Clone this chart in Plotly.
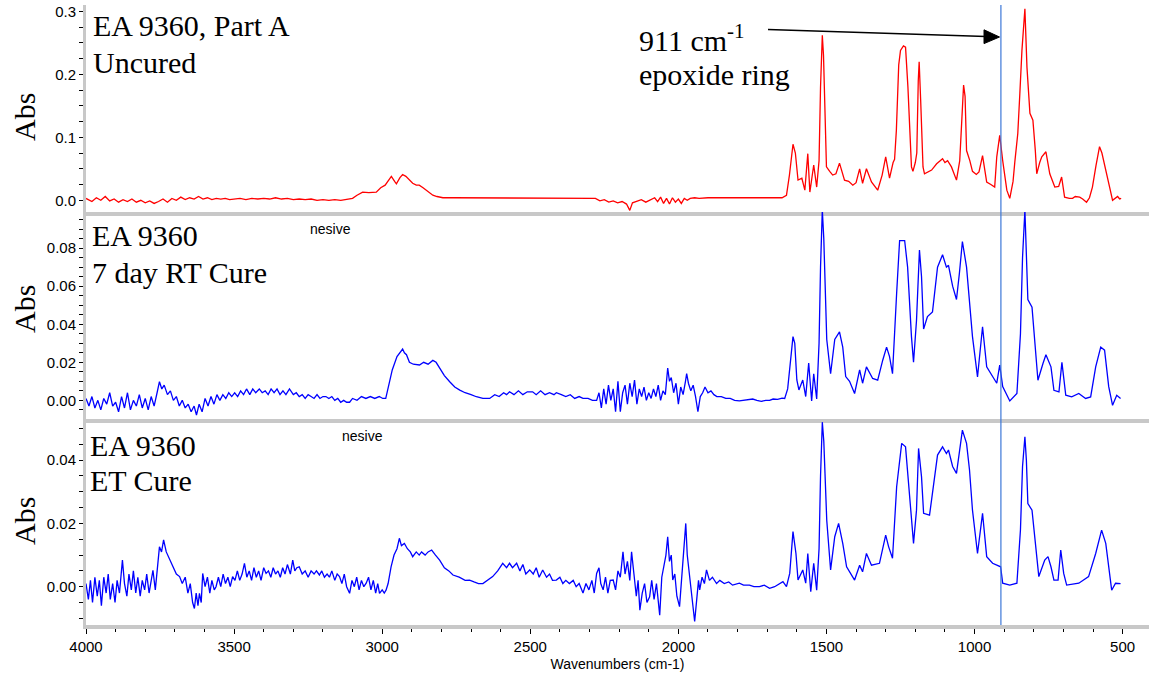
import plotly.graph_objects as go

# ---------------- data (wavenumber cm-1, absorbance) ----------------
UNCURED = [
    (4000, 0.003), (3980, -0.002), (3965, 0.004), (3950, 0.000), (3935, 0.006), (3920, -0.001),
    (3905, 0.002), (3890, -0.003), (3875, 0.001), (3860, -0.002), (3845, 0.002), (3830, -0.003),
    (3815, 0.000), (3800, -0.004), (3785, -0.001), (3770, -0.005), (3755, -0.002), (3740, 0.002),
    (3725, -0.003), (3710, 0.003), (3695, 0.000), (3680, 0.005), (3665, 0.001), (3650, 0.004),
    (3635, 0.002), (3620, 0.006), (3605, 0.002), (3590, 0.004), (3575, 0.001), (3560, 0.003),
    (3545, 0.002), (3530, 0.003), (3515, 0.001), (3500, 0.002), (3480, 0.003), (3460, 0.001),
    (3440, 0.003), (3420, 0.002), (3400, 0.003), (3380, 0.002), (3360, 0.004), (3340, 0.002),
    (3320, 0.003), (3300, 0.001), (3280, 0.002), (3260, 0.001), (3240, 0.002), (3220, 0.000),
    (3200, 0.001), (3180, 0.000), (3160, 0.001), (3140, 0.000), (3120, 0.002), (3100, 0.003),
    (3085, 0.008), (3066, 0.013), (3045, 0.012), (3020, 0.013), (3005, 0.020), (2990, 0.024),
    (2975, 0.034), (2969, 0.038), (2958, 0.030), (2952, 0.026), (2940, 0.036), (2931, 0.041),
    (2920, 0.038), (2905, 0.031), (2897, 0.027), (2885, 0.024), (2875, 0.024), (2862, 0.020),
    (2850, 0.016), (2840, 0.012), (2829, 0.008), (2815, 0.006), (2795, 0.004), (2760, 0.004),
    (2720, 0.004), (2680, 0.003), (2640, 0.004), (2600, 0.003), (2560, 0.004), (2520, 0.003),
    (2480, 0.004), (2440, 0.003), (2400, 0.004), (2360, 0.003), (2320, 0.004), (2280, 0.003),
    (2265, -0.001), (2250, 0.001), (2235, -0.003), (2220, -0.001), (2205, -0.004), (2190, -0.002),
    (2175, -0.006), (2164, -0.016), (2155, -0.004), (2140, -0.002), (2125, 0.001), (2110, -0.003),
    (2095, 0.000), (2080, 0.004), (2070, -0.002), (2060, 0.005), (2050, -0.005), (2040, 0.003),
    (2030, -0.006), (2020, 0.004), (2010, -0.003), (2000, 0.002), (1990, -0.005), (1980, 0.003),
    (1970, 0.000), (1960, 0.003), (1945, 0.004), (1930, 0.003), (1900, 0.004), (1870, 0.004),
    (1840, 0.003), (1800, 0.003), (1760, 0.003), (1700, 0.003), (1650, 0.004), (1635, 0.008),
    (1625, 0.040), (1613, 0.089), (1605, 0.075), (1596, 0.032), (1583, 0.035), (1573, 0.016),
    (1563, 0.074), (1556, 0.013), (1543, 0.056), (1533, 0.021), (1525, 0.063), (1520, 0.180),
    (1514, 0.262), (1510, 0.230), (1505, 0.148), (1500, 0.053), (1489, 0.046), (1479, 0.040),
    (1468, 0.042), (1456, 0.059), (1439, 0.032), (1425, 0.030), (1411, 0.024), (1400, 0.028),
    (1388, 0.050), (1378, 0.027), (1365, 0.050), (1348, 0.029), (1327, 0.016), (1312, 0.040),
    (1300, 0.069), (1287, 0.035), (1275, 0.060), (1270, 0.065), (1264, 0.111), (1256, 0.215),
    (1250, 0.238), (1240, 0.245), (1233, 0.243), (1225, 0.180), (1213, 0.053), (1208, 0.046),
    (1200, 0.060), (1195, 0.075), (1190, 0.190), (1187, 0.220), (1182, 0.160), (1179, 0.110),
    (1174, 0.053), (1169, 0.042), (1158, 0.045), (1145, 0.048), (1128, 0.058), (1118, 0.062),
    (1108, 0.066), (1100, 0.060), (1091, 0.063), (1078, 0.053), (1061, 0.032), (1050, 0.063),
    (1044, 0.117), (1037, 0.183), (1032, 0.165), (1027, 0.079), (1016, 0.063), (1007, 0.046),
    (994, 0.041), (985, 0.045), (973, 0.071), (966, 0.050), (959, 0.029), (945, 0.025),
    (932, 0.021), (925, 0.069), (915, 0.103), (905, 0.063), (891, 0.016), (881, 0.003),
    (870, 0.030), (864, 0.061), (854, 0.106), (847, 0.170), (840, 0.238), (830, 0.304),
    (823, 0.211), (813, 0.138), (803, 0.127), (795, 0.080), (790, 0.042), (780, 0.060),
    (773, 0.069), (759, 0.077), (746, 0.042), (729, 0.021), (716, 0.022), (706, 0.037),
    (696, 0.005), (680, 0.003), (669, 0.003), (660, 0.006), (645, 0.005), (635, 0.002),
    (622, -0.003), (612, 0.004), (602, 0.021), (590, 0.055), (578, 0.085), (570, 0.075),
    (561, 0.058), (552, 0.040), (544, 0.021), (534, 0.000), (525, 0.004), (517, 0.006),
    (510, 0.002), (505, 0.003),
]

RT_CURE = [
    (4000, 0.001), (3990, -0.003), (3980, 0.002), (3970, -0.004), (3960, 0.000), (3950, -0.005),
    (3940, 0.001), (3930, -0.002), (3920, 0.004), (3910, -0.003), (3900, -0.001), (3890, -0.006),
    (3880, 0.002), (3870, -0.004), (3860, 0.004), (3850, -0.005), (3840, 0.000), (3830, -0.003),
    (3820, 0.003), (3810, -0.004), (3800, 0.001), (3790, -0.005), (3780, 0.002), (3770, -0.003),
    (3760, 0.004), (3752, 0.0098), (3744, 0.006), (3736, 0.008), (3725, 0.003), (3715, 0.005),
    (3705, 0.000), (3695, 0.002), (3685, -0.003), (3675, 0.000), (3665, -0.004), (3655, -0.002),
    (3645, -0.006), (3635, -0.003), (3627, -0.0077), (3618, -0.002), (3608, -0.006), (3598, 0.001),
    (3588, -0.003), (3578, 0.002), (3568, -0.002), (3558, 0.003), (3548, 0.000), (3538, 0.003),
    (3528, 0.001), (3518, 0.004), (3508, 0.002), (3498, 0.004), (3488, 0.002), (3478, 0.005),
    (3468, 0.003), (3458, 0.006), (3447, 0.003), (3437, 0.006), (3427, 0.004), (3415, 0.006),
    (3405, 0.004), (3395, 0.005), (3385, 0.003), (3375, 0.006), (3365, 0.004), (3355, 0.006),
    (3345, 0.003), (3335, 0.005), (3325, 0.003), (3313, 0.006), (3300, 0.003), (3290, 0.004),
    (3280, 0.002), (3270, 0.003), (3260, 0.001), (3250, 0.003), (3240, 0.002), (3230, 0.001),
    (3220, 0.003), (3210, 0.001), (3200, 0.002), (3190, 0.002), (3180, 0.001), (3170, 0.002),
    (3160, 0.000), (3150, 0.001), (3140, -0.001), (3130, 0.000), (3120, -0.001), (3110, -0.001),
    (3100, 0.001), (3085, 0.000), (3070, 0.002), (3055, 0.001), (3040, 0.002), (3025, 0.001),
    (3010, 0.002), (2998, 0.001), (2988, 0.001), (2980, 0.006), (2966, 0.016), (2950, 0.023),
    (2940, 0.025), (2931, 0.027), (2925, 0.025), (2918, 0.024), (2908, 0.020), (2895, 0.019),
    (2874, 0.0186), (2860, 0.020), (2845, 0.019), (2829, 0.021), (2818, 0.020), (2806, 0.017),
    (2790, 0.013), (2772, 0.0098), (2755, 0.007), (2738, 0.0054), (2720, 0.004), (2700, 0.003),
    (2682, 0.0019), (2660, 0.001), (2637, 0.001), (2620, 0.003), (2605, 0.002), (2590, 0.004),
    (2580, 0.003), (2570, 0.0045), (2555, 0.003), (2540, 0.005), (2525, 0.003), (2510, 0.0045),
    (2492, 0.0045), (2480, 0.003), (2465, 0.005), (2450, 0.003), (2435, 0.004), (2420, 0.003),
    (2412, 0.004), (2395, 0.003), (2380, 0.002), (2365, 0.003), (2350, 0.001), (2335, 0.002),
    (2322, 0.001), (2305, 0.001), (2290, 0.000), (2276, 0.000), (2268, 0.004), (2260, -0.004),
    (2252, 0.006), (2244, -0.002), (2236, 0.008), (2228, 0.000), (2220, 0.006), (2212, -0.006),
    (2204, 0.010), (2196, -0.006), (2188, 0.004), (2180, 0.008), (2172, -0.002), (2164, 0.009),
    (2156, 0.002), (2148, 0.0107), (2140, -0.002), (2132, 0.006), (2124, 0.002), (2116, 0.007),
    (2108, 0.000), (2100, 0.004), (2092, 0.001), (2084, 0.006), (2076, 0.002), (2068, 0.008),
    (2060, 0.000), (2052, 0.005), (2044, 0.003), (2036, 0.017), (2030, 0.010), (2024, 0.012),
    (2016, 0.004), (2008, 0.009), (2000, -0.002), (1992, 0.007), (1984, 0.003), (1976, 0.010),
    (1972, 0.014), (1966, 0.009), (1958, 0.005), (1950, 0.008), (1942, 0.002), (1934, -0.006),
    (1926, 0.002), (1918, 0.004), (1910, 0.007), (1900, 0.004), (1890, 0.005), (1880, 0.003),
    (1870, 0.002), (1855, 0.002), (1840, 0.001), (1825, 0.001), (1810, 0.000), (1794, -0.0003),
    (1780, 0.000), (1765, 0.0005), (1749, 0.0007), (1735, 0.000), (1720, -0.0005), (1705, 0.000),
    (1692, 0.000), (1680, 0.0007), (1665, 0.0005), (1650, 0.0012), (1641, 0.001), (1631, 0.006),
    (1620, 0.025), (1613, 0.0335), (1607, 0.030), (1600, 0.0107), (1593, 0.0055), (1580, 0.0107),
    (1570, 0.002), (1560, 0.0196), (1550, -0.0003), (1543, 0.014), (1533, 0.0007), (1525, 0.030),
    (1520, 0.070), (1514, 0.100), (1509, 0.085), (1504, 0.050), (1499, 0.032), (1486, 0.014),
    (1472, 0.032), (1456, 0.036), (1445, 0.028), (1435, 0.0125), (1422, 0.010), (1405, 0.0036),
    (1388, 0.016), (1378, 0.009), (1365, 0.0176), (1344, 0.0115), (1327, 0.0106), (1310, 0.0211),
    (1297, 0.028), (1287, 0.023), (1277, 0.014), (1263, 0.0564), (1253, 0.084), (1236, 0.084),
    (1226, 0.070), (1213, 0.0335), (1206, 0.020), (1196, 0.042), (1186, 0.079), (1179, 0.065),
    (1172, 0.0375), (1159, 0.044), (1142, 0.0465), (1125, 0.070), (1108, 0.0765), (1095, 0.070),
    (1088, 0.071), (1074, 0.060), (1061, 0.053), (1051, 0.067), (1041, 0.0835), (1027, 0.070),
    (1017, 0.051), (1007, 0.0335), (990, 0.0123), (973, 0.0387), (959, 0.0176), (939, 0.0123),
    (925, 0.009), (915, 0.0185), (905, 0.0072), (881, -0.0003), (857, 0.0036), (845, 0.035),
    (838, 0.075), (830, 0.100), (825, 0.080), (820, 0.053), (806, 0.049), (796, 0.030),
    (786, 0.0106), (769, 0.0194), (759, 0.024), (742, 0.0176), (732, 0.0053), (715, 0.0045),
    (705, 0.020), (692, 0.0027), (672, 0.0018), (648, 0.0036), (625, 0.001), (608, 0.0018),
    (591, 0.0176), (574, 0.028), (561, 0.0264), (547, 0.0072), (534, -0.0026), (520, 0.0027),
    (507, 0.001),
]

ET_CURE = [
    (4000, 0.001), (3992, -0.004), (3985, 0.002), (3978, -0.005), (3970, 0.003), (3962, -0.003),
    (3955, 0.002), (3948, -0.006), (3940, 0.003), (3932, -0.002), (3925, 0.004), (3918, -0.004),
    (3910, 0.001), (3902, -0.005), (3895, 0.002), (3887, -0.002), (3877, 0.0084), (3870, 0.001),
    (3862, -0.003), (3855, 0.004), (3847, -0.001), (3840, 0.005), (3832, -0.002), (3825, 0.003),
    (3817, -0.003), (3810, 0.002), (3802, -0.001), (3795, 0.004), (3787, -0.002), (3780, 0.002),
    (3774, 0.0052), (3766, -0.001), (3758, 0.006), (3752, 0.0126), (3745, 0.011), (3738, 0.0148),
    (3729, 0.011), (3720, 0.009), (3707, 0.0063), (3695, 0.004), (3684, 0.0032), (3675, 0.001),
    (3665, 0.003), (3656, -0.002), (3648, 0.001), (3640, -0.005), (3634, -0.0069), (3628, -0.002),
    (3622, -0.006), (3617, -0.0021), (3611, -0.005), (3606, 0.0042), (3598, 0.000), (3590, 0.003),
    (3582, -0.002), (3575, 0.002), (3567, -0.001), (3561, 0.000), (3553, 0.003), (3545, 0.000),
    (3537, 0.004), (3529, 0.001), (3521, 0.003), (3513, 0.000), (3505, 0.0032), (3497, 0.002),
    (3489, 0.005), (3481, 0.002), (3473, 0.004), (3465, 0.0074), (3457, 0.003), (3449, 0.005),
    (3441, 0.002), (3433, 0.006), (3425, 0.003), (3417, 0.005), (3409, 0.002), (3400, 0.006),
    (3392, 0.0042), (3384, 0.005), (3376, 0.003), (3368, 0.006), (3360, 0.004), (3352, 0.005),
    (3344, 0.003), (3336, 0.006), (3328, 0.004), (3320, 0.007), (3310, 0.004), (3302, 0.0084),
    (3295, 0.005), (3288, 0.006), (3280, 0.0063), (3270, 0.004), (3260, 0.005), (3250, 0.003),
    (3240, 0.005), (3230, 0.004), (3222, 0.005), (3212, 0.0037), (3204, 0.005), (3195, 0.003),
    (3186, 0.004), (3178, 0.003), (3170, 0.005), (3160, 0.002), (3152, 0.004), (3144, 0.0032),
    (3136, 0.001), (3128, 0.004), (3120, 0.000), (3110, -0.0021), (3102, 0.002), (3094, 0.000),
    (3086, 0.003), (3078, -0.001), (3070, 0.002), (3062, 0.000), (3054, 0.0011), (3046, 0.003),
    (3038, -0.001), (3030, 0.002), (3022, -0.002), (3015, 0.001), (3009, -0.0021), (3000, -0.001),
    (2993, -0.002), (2987, -0.0011), (2980, 0.001), (2970, 0.0063), (2960, 0.010), (2950, 0.012),
    (2942, 0.0153), (2935, 0.013), (2925, 0.0137), (2915, 0.012), (2905, 0.011), (2897, 0.0095),
    (2885, 0.011), (2875, 0.010), (2867, 0.011), (2855, 0.010), (2845, 0.011), (2833, 0.0116),
    (2820, 0.010), (2806, 0.0084), (2790, 0.006), (2775, 0.005), (2761, 0.0037), (2740, 0.003),
    (2720, 0.002), (2705, 0.0021), (2690, 0.0015), (2675, 0.001), (2660, 0.001), (2645, 0.002),
    (2627, 0.0032), (2610, 0.005), (2593, 0.0074), (2580, 0.006), (2570, 0.0074), (2560, 0.006),
    (2546, 0.0074), (2535, 0.005), (2525, 0.007), (2515, 0.004), (2502, 0.0053), (2490, 0.004),
    (2480, 0.006), (2470, 0.003), (2458, 0.0053), (2445, 0.003), (2435, 0.004), (2425, 0.002),
    (2412, 0.0021), (2400, 0.003), (2390, 0.001), (2380, 0.002), (2368, 0.001), (2355, 0.002),
    (2345, 0.000), (2335, 0.001), (2322, -0.002), (2312, 0.001), (2302, -0.001), (2292, 0.002),
    (2284, -0.002), (2276, 0.0042), (2268, 0.006), (2262, 0.001), (2254, -0.001), (2246, 0.003),
    (2238, -0.002), (2230, 0.002), (2220, 0.0021), (2212, -0.001), (2204, 0.005), (2196, 0.003),
    (2187, 0.011), (2180, 0.004), (2172, 0.008), (2164, 0.002), (2158, 0.011), (2150, 0.004),
    (2142, -0.003), (2136, 0.002), (2130, -0.0074), (2122, -0.002), (2114, 0.001), (2106, -0.005),
    (2097, -0.0032), (2090, 0.002), (2082, -0.004), (2074, 0.001), (2068, -0.006), (2063, -0.009),
    (2056, 0.003), (2048, 0.007), (2042, 0.010), (2036, 0.0158), (2030, 0.008), (2024, 0.010),
    (2019, 0.0021), (2012, 0.004), (2005, -0.003), (1996, -0.0063), (1988, 0.004), (1982, 0.012),
    (1975, 0.020), (1970, 0.010), (1962, 0.0032), (1956, -0.002), (1950, -0.006), (1945, -0.011),
    (1938, -0.004), (1932, 0.002), (1928, -0.001), (1920, 0.003), (1912, 0.001), (1905, 0.0053),
    (1895, 0.002), (1885, 0.003), (1871, 0.001), (1860, 0.002), (1845, 0.001), (1830, 0.0015),
    (1817, 0.0005), (1800, 0.001), (1794, 0.0011), (1780, 0.0005), (1760, 0.0005), (1745, 0.000),
    (1726, 0.000), (1710, 0.0005), (1692, -0.0005), (1675, 0.000), (1660, 0.001), (1647, 0.0016),
    (1635, 0.000), (1624, 0.0042), (1613, 0.0174), (1603, 0.0105), (1596, 0.0021), (1580, 0.0053),
    (1570, 0.0011), (1563, 0.0105), (1553, -0.0016), (1543, 0.0074), (1533, -0.0011), (1525, 0.012),
    (1520, 0.035), (1514, 0.052), (1509, 0.046), (1504, 0.030), (1499, 0.021), (1486, 0.0053),
    (1472, 0.0158), (1459, 0.020), (1445, 0.0137), (1432, 0.0063), (1405, 0.0021), (1388, 0.0068),
    (1378, 0.0047), (1365, 0.0105), (1348, 0.0068), (1321, 0.0074), (1300, 0.0163), (1290, 0.0126),
    (1277, 0.009), (1263, 0.0316), (1246, 0.0453), (1233, 0.0442), (1219, 0.0295), (1206, 0.0137),
    (1196, 0.0242), (1189, 0.0437), (1179, 0.0347), (1172, 0.0232), (1152, 0.0226), (1142, 0.0295),
    (1125, 0.0416), (1108, 0.0442), (1095, 0.0421), (1088, 0.0432), (1074, 0.038), (1061, 0.0358),
    (1051, 0.0432), (1041, 0.0495), (1027, 0.0453), (1017, 0.0369), (1007, 0.0242), (990, 0.0105),
    (973, 0.0232), (959, 0.0095), (939, 0.0074), (922, 0.0068), (912, 0.0063), (905, 0.0011),
    (881, 0.0005), (857, 0.0011), (845, 0.018), (838, 0.038), (830, 0.0474), (825, 0.040),
    (820, 0.0263), (806, 0.0242), (793, 0.0116), (783, 0.0032), (763, 0.0084), (752, 0.0095),
    (742, 0.0063), (732, 0.0021), (718, 0.0021), (709, 0.0116), (699, 0.0042), (689, 0.0005),
    (648, 0.0011), (615, 0.0032), (591, 0.0105), (571, 0.0179), (557, 0.0137), (547, 0.0063),
    (537, -0.0011), (524, 0.0011), (507, 0.001),
]

uncured_wn = [p[0] for p in UNCURED]
uncured_abs = [p[1] for p in UNCURED]
rt_wn = [p[0] for p in RT_CURE]
rt_abs = [p[1] for p in RT_CURE]
et_wn = [p[0] for p in ET_CURE]
et_abs = [p[1] for p in ET_CURE]

panel_titles = [("EA 9360, Part A", "Uncured"), ("EA 9360", "7 day RT Cure"), ("EA 9360", "ET Cure")]
epoxide_wn = 911
x_ticks = [4000, 3500, 3000, 2500, 2000, 1500, 1000, 500]

# ---------------- layout geometry ----------------
W, H = 1149, 674
ML, MR, MT, MB = 86, 0, 5, 49
PH = H - MT - MB


def py(p):  # pixel y -> paper y
    return (H - MB - p) / PH


def px(p):  # pixel x -> paper x
    return (p - ML) / (W - ML - MR)


d3 = [0, py(419)]
d2 = [py(419), py(212)]
d1 = [py(212), 1]

fig = go.Figure()
fig.add_trace(go.Scatter(x=uncured_wn, y=uncured_abs, mode="lines",
                         line=dict(color="#ff0000", width=1.3), xaxis="x", yaxis="y"))
fig.add_trace(go.Scatter(x=rt_wn, y=rt_abs, mode="lines",
                         line=dict(color="#0000ff", width=1.3), xaxis="x2", yaxis="y2"))
fig.add_trace(go.Scatter(x=et_wn, y=et_abs, mode="lines",
                         line=dict(color="#0000ff", width=1.3), xaxis="x3", yaxis="y3"))

XR = [4000, 411]
gray = "#c8c8c8"
tickfont = dict(family="Liberation Sans, Arial", size=15, color="black")

xcommon = dict(range=XR, showgrid=False, zeroline=False, showline=True, linecolor=gray,
               linewidth=4, domain=[0, 1])
ycommon = dict(showgrid=False, zeroline=False, showline=True, linecolor=gray, linewidth=3,
               ticks="outside", ticklen=4, tickcolor="black", tickwidth=1, tickfont=tickfont)

fig.update_layout(
    width=W, height=H, margin=dict(l=ML, r=MR, t=MT, b=MB),
    paper_bgcolor="white", plot_bgcolor="white", showlegend=False,
    xaxis=dict(**xcommon, anchor="y", showticklabels=False, ticks=""),
    xaxis2=dict(**xcommon, anchor="y2", showticklabels=False, ticks="", matches="x"),
    xaxis3=dict(**xcommon, anchor="y3", ticks="outside", ticklen=5, tickcolor="black",
                tickvals=x_ticks, tickfont=tickfont, matches="x",
                minor=dict(ticks="outside", ticklen=3, tickcolor="black", dtick=100, tick0=0),
                title=dict(text="Wavenumbers (cm-1)", standoff=6,
                           font=dict(family="Liberation Sans, Arial", size=14, color="black"))),
    yaxis=dict(**ycommon, domain=d1, anchor="x", range=[-0.0186, 0.31],
               tickvals=[0, 0.1, 0.2, 0.3], ticktext=["0.0", "0.1", "0.2", "0.3"],
               minor=dict(ticks="outside", ticklen=4, tickcolor="black", dtick=0.025, tick0=0)),
    yaxis2=dict(**ycommon, domain=d2, anchor="x2", range=[-0.0098, 0.099],
                dtick=0.02, tick0=0, tickformat=".2f",
                minor=dict(ticks="outside", ticklen=4, tickcolor="black", dtick=0.005, tick0=0)),
    yaxis3=dict(**ycommon, domain=d3, anchor="x3", range=[-0.0121, 0.053],
                dtick=0.02, tick0=0, tickformat=".2f",
                minor=dict(ticks="outside", ticklen=4, tickcolor="black", dtick=0.005, tick0=0)),
)

# vertical epoxide marker line
fig.add_shape(type="line", xref="x", yref="paper", x0=epoxide_wn, x1=epoxide_wn, y0=0, y1=1,
              line=dict(color="#3c78d8", width=1.2))

# annotation arrow (line + filled head), pointing at the marker line
fig.add_shape(type="line", xref="paper", yref="paper", x0=px(768), y0=py(29.5),
              x1=px(986), y1=py(36.5), line=dict(color="black", width=1.3))
fig.add_shape(type="path", xref="paper", yref="paper",
              path=f"M {px(999.5)},{py(37)} L {px(984)},{py(29.8)} L {px(984)},{py(43.6)} Z",
              fillcolor="black", line=dict(color="black", width=1))

serif = "Liberation Serif, Times New Roman"
ann = []
title_pos = [(91, 26, 63), (90, 235, 272), (88, 445, 480)]
for (l1, l2), (xl, y1, y2) in zip(panel_titles, title_pos):
    for txt, yy in ((l1, y1), (l2, y2)):
        ann.append(dict(text=txt, xref="paper", yref="paper", x=px(xl), y=py(yy),
                        xanchor="left", yanchor="middle", showarrow=False,
                        font=dict(family=serif, size=30, color="black")))
for yy in (117, 309, 521):
    ann.append(dict(text="Abs", xref="paper", yref="paper", x=px(24), y=py(yy), textangle=-90,
                    xanchor="center", yanchor="middle", showarrow=False,
                    font=dict(family=serif, size=30, color="black")))
for xl, yy in ((308, 229), (340, 436)):
    ann.append(dict(text="nesive", xref="paper", yref="paper", x=px(xl), y=py(yy),
                    xanchor="left", yanchor="middle", showarrow=False,
                    font=dict(family="Liberation Sans, Arial", size=14, color="black")))
ann.append(dict(text="911 cm<sup>-1</sup>", xref="paper", yref="paper", x=px(637), y=py(38),
                xanchor="left", yanchor="middle", showarrow=False,
                font=dict(family=serif, size=30, color="black")))
ann.append(dict(text="epoxide ring", xref="paper", yref="paper", x=px(637), y=py(74),
                xanchor="left", yanchor="middle", showarrow=False,
                font=dict(family=serif, size=30, color="black")))
fig.update_layout(annotations=ann)

fig.write_html("out.html")
